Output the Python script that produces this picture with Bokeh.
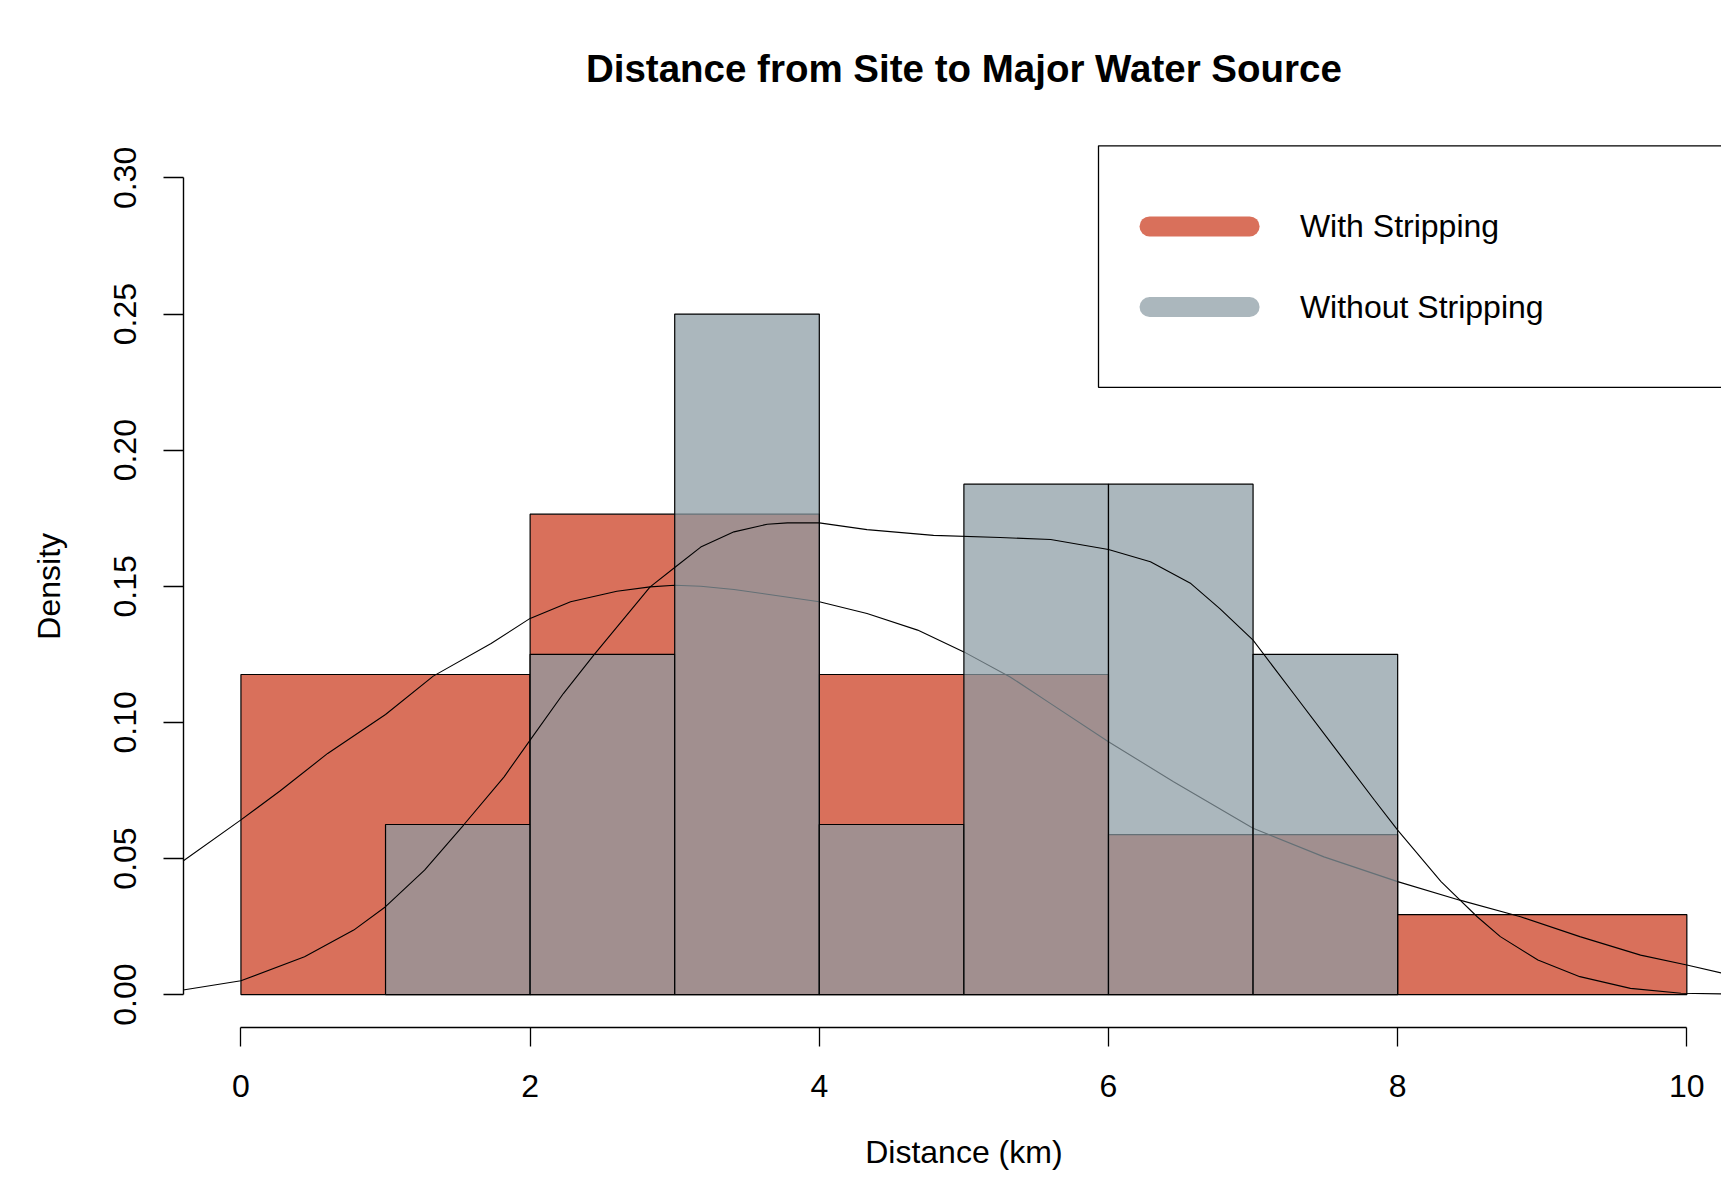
import math
from bokeh.plotting import figure
from bokeh.models import Range1d, FixedTicker, NumeralTickFormatter, Label
from bokeh.embed import file_html
from bokeh.resources import INLINE

# ---- data ----
title_text = "Distance from Site to Major Water Source"
x_title = "Distance (km)"
y_title = "Density"
series_names = ["With Stripping", "Without Stripping"]

with_breaks = [0, 2, 4, 6, 8, 10]
with_density = [0.1176, 0.1765, 0.1176, 0.0588, 0.0294]

without_breaks = [1, 2, 3, 4, 5, 6, 7, 8]
without_density = [0.0625, 0.125, 0.25, 0.0625, 0.1875, 0.1875, 0.125]

kde_with_x = [-0.4, 0, 0.27, 0.6, 1.0, 1.33, 1.73, 2.0, 2.28, 2.6, 2.83, 3.0, 3.18,
              3.41, 3.64, 4.0, 4.33, 4.68, 5.0, 5.32, 5.6, 6.0, 6.45, 7.0, 7.49,
              8.0, 8.43, 8.85, 9.26, 9.68, 10.0, 10.3]
kde_with_y = [0.0491, 0.0642, 0.0748, 0.0886, 0.1029, 0.1170, 0.1290, 0.1382, 0.1443,
              0.1482, 0.1498, 0.1504, 0.1500, 0.1488, 0.1471, 0.1443, 0.1400, 0.1339,
              0.1259, 0.1167, 0.1069, 0.0929, 0.0782, 0.0611, 0.0506, 0.0415, 0.0347,
              0.0286, 0.0213, 0.0145, 0.0109, 0.0072]

kde_without_x = [-0.4, 0, 0.44, 0.78, 1.0, 1.27, 1.54, 1.82, 2.0, 2.23, 2.44, 2.63,
                 2.83, 3.0, 3.18, 3.41, 3.64, 3.78, 4.0, 4.33, 4.79, 5.25, 5.6, 6.0,
                 6.29, 6.57, 6.77, 7.0, 7.28, 7.56, 7.84, 8.0, 8.3, 8.55, 8.71, 8.97,
                 9.26, 9.61, 9.96, 10.3]
kde_without_y = [0.0017, 0.0051, 0.0139, 0.0237, 0.0323, 0.0457, 0.0623, 0.0800,
                 0.0935, 0.1106, 0.1247, 0.1369, 0.1498, 0.1569, 0.1644, 0.1700,
                 0.1728, 0.1733, 0.1733, 0.1708, 0.1687, 0.1679, 0.1672, 0.1635,
                 0.1590, 0.1510, 0.1418, 0.1302, 0.1106, 0.0910, 0.0714, 0.0604,
                 0.0415, 0.0286, 0.0213, 0.0127, 0.0066, 0.0023, 0.0005, 0.0002]

x_ticks = [0, 2, 4, 6, 8, 10]
y_ticks = [0.0, 0.05, 0.10, 0.15, 0.20, 0.25, 0.30]

# ---- styling / layout ----
RED = "#D9705B"
GREY = "#8A9BA3"
GREY_ALPHA = 0.72
FONT = "Liberation Sans"

# the frame covers the whole canvas; R-style axes are drawn at fixed locations
p = figure(width=1721, height=1171,
           x_range=Range1d(-1.6629, 10.2397), y_range=Range1d(-0.06498, 0.36519),
           output_backend="svg", toolbar_location=None, min_border=0)
p.xgrid.visible = False
p.ygrid.visible = False
p.outline_line_color = None
p.background_fill_color = "white"
p.border_fill_color = "white"

# histograms and density curves
p.quad(left=with_breaks[:-1], right=with_breaks[1:], bottom=0, top=with_density,
       fill_color=RED, line_color="black", line_width=1.2)
p.line(kde_with_x, kde_with_y, line_color="black", line_width=1.1)
p.quad(left=without_breaks[:-1], right=without_breaks[1:], bottom=0, top=without_density,
       fill_color=GREY, fill_alpha=GREY_ALPHA, line_color="black", line_width=1.2)
p.line(kde_without_x, kde_without_y, line_color="black", line_width=1.1)

# axes
for ax in p.xaxis:
    ax.fixed_location = -0.012
    ax.ticker = FixedTicker(ticks=x_ticks)
    ax.bounds = (0, 10)
    ax.major_tick_out = 19
    ax.major_tick_in = 0
    ax.minor_tick_line_color = None
    ax.axis_line_width = 1.4
    ax.major_tick_line_width = 1.3
    ax.axis_line_color = "black"
    ax.major_tick_line_color = "black"
    ax.major_label_text_font = FONT
    ax.major_label_text_font_size = "32px"
    ax.major_label_text_color = "black"
    ax.major_label_standoff = 29

for ax in p.yaxis:
    ax.fixed_location = -0.4
    ax.ticker = FixedTicker(ticks=y_ticks)
    ax.formatter = NumeralTickFormatter(format="0.00")
    ax.bounds = (0, 0.3)
    ax.major_tick_out = 20
    ax.major_tick_in = 0
    ax.minor_tick_line_color = None
    ax.axis_line_width = 1.4
    ax.major_tick_line_width = 1.3
    ax.axis_line_color = "black"
    ax.major_tick_line_color = "black"
    ax.major_label_text_font = FONT
    ax.major_label_text_font_size = "32px"
    ax.major_label_text_color = "black"
    ax.major_label_orientation = "vertical"
    ax.major_label_standoff = 27

# titles
p.add_layout(Label(x=5.0, y=0.3401, text=title_text, text_align="center",
                   text_baseline="middle", text_font=FONT, text_font_size="38.5px",
                   text_font_style="bold", text_color="black"))
p.add_layout(Label(x=5.0, y=-0.0578, text=x_title, text_align="center",
                   text_baseline="middle", text_font=FONT, text_font_size="32px",
                   text_color="black"))
p.add_layout(Label(x=-1.33, y=0.15, text=y_title, angle=math.pi / 2, text_align="center",
                   text_baseline="middle", text_font=FONT, text_font_size="32px",
                   text_color="black"))

# legend (R-style box in the top-right corner of the plot region)
p.quad(left=[5.931], right=[10.8], bottom=[0.2231], top=[0.3118],
       fill_color=None, line_color="black", line_width=1.3)
p.segment(x0=[6.284], x1=[6.976], y0=[0.2822], y1=[0.2822],
          line_color=RED, line_width=20, line_cap="round")
p.segment(x0=[6.284], x1=[6.976], y0=[0.2526], y1=[0.2526],
          line_color=GREY, line_alpha=GREY_ALPHA, line_width=20, line_cap="round")
for name, yy in zip(series_names, [0.2822, 0.2526]):
    p.add_layout(Label(x=7.324, y=yy, text=name, text_align="left",
                       text_baseline="middle", text_font=FONT, text_font_size="32px",
                       text_color="black"))

open("out.html", "w").write(file_html(p, INLINE))
